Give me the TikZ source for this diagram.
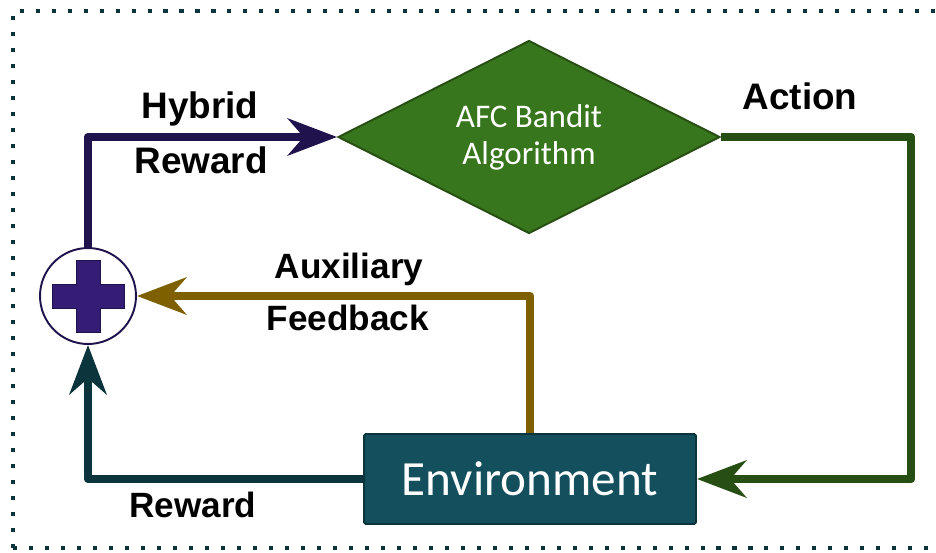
\documentclass[tikz,border=0pt]{standalone}
\usepackage{fontspec}
\setmainfont{Liberation Sans}
\newfontfamily\nodefont{Carlito}
\usetikzlibrary{shapes.geometric, arrows.meta, positioning}

\definecolor{dgreenA}{HTML}{274E13}
\definecolor{dgreenB}{HTML}{38761D}
\definecolor{dyellow}{HTML}{7F6000}
\definecolor{dpurpleA}{HTML}{20124D}
\definecolor{dpurpleB}{HTML}{351C75}
\definecolor{dcyanA}{HTML}{0C343D}
\definecolor{dcyanB}{HTML}{134F5C}

\tikzstyle{algo} = [diamond, shape aspect=2, minimum width=7.64cm, minimum height=3.86cm, inner sep=0pt, align=center, text centered, draw=dgreenA, line width=1.1pt, fill=dgreenB, text=white, font=\nodefont\fontsize{18.8}{21.2}\selectfont]
\tikzstyle{envbox} = [rectangle, minimum width=6.64cm, minimum height=1.8cm, rounded corners=1pt, text centered, draw=dcyanA, line width=1.1pt, fill=dcyanB, text=white, font=\nodefont\fontsize{28}{30}\selectfont]
\tikzstyle{sumnode} = [circle, minimum size=1.92cm, inner sep=0pt, draw=dpurpleA, line width=1.1pt, fill=white]
\tikzstyle{label} = [anchor=base, inner sep=0pt, font=\bfseries\fontsize{21}{24}\selectfont]
\tikzstyle{smalllabel} = [anchor=base, inner sep=0pt, font=\bfseries\fontsize{20}{23}\selectfont]
\tikzstyle{arrow} = [line width=4.8pt, line join=round, -{Stealth[length=28pt, width=21pt, inset=9pt]}]

\begin{document}
\begin{tikzpicture}[x=0.02cm, y=-0.02cm]

\useasboundingbox (0,0) rectangle (936,552);

% dotted frame, runs off the right edge
\draw [dcyanA, line width=2.3pt, dash pattern=on 2.3pt off 6.8pt] (13,548) -- (13,11) -- (960,11);
\draw [dcyanA, line width=2.3pt, dash pattern=on 2.3pt off 6.8pt] (13,548) -- (960,548);

\node (sum) [sumnode] at (88,296) {};
\node (algo) [algo] at (529,137) {AFC Bandit\\Algorithm};
\node (env) [envbox] at (530,479) {Environment};
\coordinate (turn) at (911,479);

% plus sign inside the sum node
\filldraw [fill=dpurpleB, draw=dpurpleA, line width=0.4pt]
  (sum.center) ++(-12,-36) -- ++(24,0) -- ++(0,24) -- ++(24,0) -- ++(0,24) -- ++(-24,0)
  -- ++(0,24) -- ++(-24,0) -- ++(0,-24) -- ++(-24,0) -- ++(0,-24) -- ++(24,0) -- cycle;

\draw [arrow, dpurpleA] (sum.north) |- (algo.west);
\draw [arrow, dgreenA] (algo.east) -| (turn) -- (env.east);
\draw [arrow, dyellow] (env.north) |- (sum.east);
\draw [arrow, dcyanA] (env.west) -| (sum.south);

\node (hybrid) [label] at (200,118) {Hybrid};
\node (hreward) [label] at (201,173) {Reward};
\node (action) [label] at (800,109) {Action};
\node (aux) [smalllabel] at (349,278) {Auxiliary};
\node (feedback) [smalllabel] at (348,330) {Feedback};
\node (reward) [smalllabel] at (193,517) {Reward};

\end{tikzpicture}
\end{document}
